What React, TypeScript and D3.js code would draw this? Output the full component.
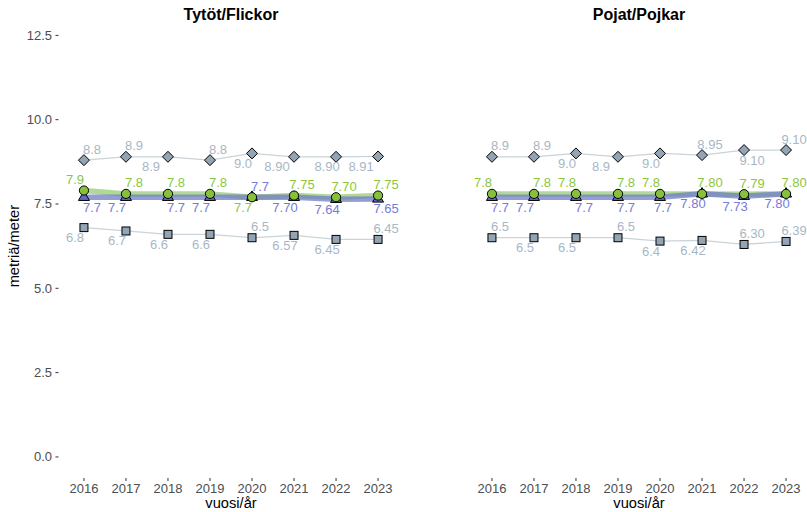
import React from "react";
import * as d3 from "d3";

// years on the x axis
const years = [2016, 2017, 2018, 2019, 2020, 2021, 2022, 2023];
const yTicks = [0, 2.5, 5, 7.5, 10, 12.5];

// Tytöt/Flickor
const girlsHigh = [8.8, 8.9, 8.9, 8.8, 9.0, 8.9, 8.9, 8.91];
const girlsMean = [7.9, 7.8, 7.8, 7.8, 7.7, 7.75, 7.7, 7.75];
const girlsMedian = [7.7, 7.7, 7.7, 7.7, 7.7, 7.7, 7.64, 7.65];
const girlsLow = [6.8, 6.7, 6.6, 6.6, 6.5, 6.57, 6.45, 6.45];

// Pojat/Pojkar
const boysHigh = [8.9, 8.9, 9.0, 8.9, 9.0, 8.95, 9.1, 9.1];
const boysMean = [7.8, 7.8, 7.8, 7.8, 7.8, 7.8, 7.79, 7.8];
const boysMedian = [7.7, 7.7, 7.7, 7.7, 7.7, 7.8, 7.73, 7.8];
const boysLow = [6.5, 6.5, 6.5, 6.5, 6.4, 6.42, 6.3, 6.39];

// where each value label sits relative to its point (u/d, l/r/L/c)
const girlsHighPos = ["ur", "ur", "dL", "ur", "dl", "dL", "dl", "dL"];
const girlsMeanPos = ["ul", "ur", "ur", "ur", "dl", "ur", "ur", "ur"];
const girlsMedianPos = ["dr", "dl", "dr", "dl", "ur", "dl", "dl", "dr"];
const girlsLowPos = ["dl", "dl", "dl", "dl", "ur", "dl", "dl", "ur"];
const boysHighPos = ["ur", "ur", "dl", "dL", "dl", "ur", "dr", "ur"];
const boysMeanPos = ["ul", "ur", "ul", "ur", "ul", "ur", "ur", "ur"];
const boysMedianPos = ["dr", "dl", "dr", "dr", "dc", "dl", "dl", "dl"];
const boysLowPos = ["ur", "dl", "dl", "ur", "dl", "dl", "ur", "ur"];

const W = 807;
const H = 512;
const FONT = "'Liberation Sans', Arial, Helvetica, sans-serif";

const grayLine = "#c9d3d9";
const grayFill = "#93a4b4";
const grayText = "#a8b7c5";
const greenBand = "#9fce7c";
const greenFill = "#87c13c";
const greenText = "#8cc63f";
const blueBand = "#6f7cc8";
const blueFill = "#5f69c6";
const blueText = "#757bd8";

const y = d3.scaleLinear().domain([-0.625, 13.125]).range([478, 14.3]);

const fmt = (v: number, yr: number) =>
  yr <= 2020 ? d3.format(".1f")(v) : d3.format(".2f")(v);

const offset = (code: string) => {
  const dy = code[0] === "u" ? -11 : 10;
  const h = code[1];
  const dx = h === "r" ? 8 : h === "l" ? -9 : h === "L" ? -17 : 3;
  return [dx, dy];
};

type Series = { values: number[]; pos: string[] };

const Panel = ({
  x0,
  x1,
  title,
  high,
  mean,
  median,
  low,
}: {
  x0: number;
  x1: number;
  title: string;
  high: Series;
  mean: Series;
  median: Series;
  low: Series;
}) => {
  const x = d3
    .scalePoint<number>()
    .domain(years)
    .range([x0, x1])
    .padding(0.57);
  const line = d3
    .line<number>()
    .x((_, i) => x(years[i]) as number)
    .y((d) => y(d));
  const cx = (x0 + x1) / 2;

  const labels = (s: Series, color: string, key: string) =>
    s.values.map((v, i) => {
      const [dx, dy] = offset(s.pos[i]);
      return (
        <text
          key={key + i}
          x={(x(years[i]) as number) + dx}
          y={y(v) + dy}
          textAnchor="middle"
          dominantBaseline="central"
          fontSize={13}
          fill={color}
        >
          {fmt(v, years[i])}
        </text>
      );
    });

  return (
    <g fontFamily={FONT}>
      <text
        x={cx}
        y={20}
        textAnchor="middle"
        fontSize={16}
        fontWeight="bold"
        fill="#000"
      >
        {title}
      </text>

      {/* x axis */}
      {years.map((yr) => (
        <g key={yr}>
          <line
            x1={x(yr)}
            x2={x(yr)}
            y1={478}
            y2={481}
            stroke="#333"
            strokeWidth={1}
          />
          <text
            x={x(yr)}
            y={493}
            textAnchor="middle"
            fontSize={13}
            fill="#4d4d4d"
          >
            {yr}
          </text>
        </g>
      ))}
      <text x={cx} y={508} textAnchor="middle" fontSize={14.7} fill="#000">
        vuosi/år
      </text>

      {/* lines */}
      <path d={line(high.values) || ""} fill="none" stroke={grayLine} strokeWidth={1.3} />
      <path d={line(low.values) || ""} fill="none" stroke={grayLine} strokeWidth={1.3} />
      <path
        d={line(mean.values) || ""}
        fill="none"
        stroke={greenBand}
        strokeWidth={5.5}
        strokeOpacity={0.8}
      />
      <path
        d={line(median.values) || ""}
        fill="none"
        stroke={blueBand}
        strokeWidth={5.5}
        strokeOpacity={0.75}
      />

      {/* markers */}
      {high.values.map((v, i) => {
        const px = x(years[i]) as number;
        const py = y(v);
        const r = 5.5;
        return (
          <path
            key={"hd" + i}
            d={`M${px},${py - r}L${px + r},${py}L${px},${py + r}L${px - r},${py}Z`}
            fill={grayFill}
            stroke="#000"
            strokeWidth={1}
          />
        );
      })}
      {low.values.map((v, i) => (
        <rect
          key={"ls" + i}
          x={(x(years[i]) as number) - 4}
          y={y(v) - 4}
          width={8}
          height={8}
          fill={grayFill}
          stroke="#000"
          strokeWidth={1}
        />
      ))}
      {median.values.map((v, i) => {
        const px = x(years[i]) as number;
        const py = y(v);
        const s = 11;
        const h = (s * Math.sqrt(3)) / 2;
        return (
          <path
            key={"mt" + i}
            d={`M${px},${py - (2 * h) / 3}L${px + s / 2},${py + h / 3}L${px - s / 2},${py + h / 3}Z`}
            fill={blueFill}
            stroke="#000"
            strokeWidth={1}
          />
        );
      })}
      {mean.values.map((v, i) => (
        <circle
          key={"mc" + i}
          cx={x(years[i]) as number}
          cy={y(v)}
          r={4.6}
          fill={greenFill}
          stroke="#000"
          strokeWidth={1}
        />
      ))}

      {/* value labels */}
      {labels(high, grayText, "hl")}
      {labels(low, grayText, "ll")}
      {labels(mean, greenText, "ml")}
      {labels(median, blueText, "dl")}
    </g>
  );
};

export default function App() {
  return (
    <svg
      width={W}
      height={H}
      style={{ position: "absolute", left: 0, top: 0, background: "#fff" }}
    >
      {/* y axis */}
      <g fontFamily={FONT}>
        {yTicks.map((t) => (
          <g key={t}>
            <text
              x={52}
              y={y(t)}
              textAnchor="end"
              dominantBaseline="central"
              fontSize={13}
              fill="#4d4d4d"
            >
              {d3.format(".1f")(t)}
            </text>
            <line x1={55.5} x2={58.5} y1={y(t)} y2={y(t)} stroke="#333" strokeWidth={1} />
          </g>
        ))}
        <text
          transform={`translate(19,${y(6.25)}) rotate(-90)`}
          textAnchor="middle"
          fontSize={14.7}
          fill="#000"
        >
          metriä/meter
        </text>
      </g>
      <Panel
        x0={60}
        x1={402}
        title="Tytöt/Flickor"
        high={{ values: girlsHigh, pos: girlsHighPos }}
        mean={{ values: girlsMean, pos: girlsMeanPos }}
        median={{ values: girlsMedian, pos: girlsMedianPos }}
        low={{ values: girlsLow, pos: girlsLowPos }}
      />
      <Panel
        x0={468}
        x1={810}
        title="Pojat/Pojkar"
        high={{ values: boysHigh, pos: boysHighPos }}
        mean={{ values: boysMean, pos: boysMeanPos }}
        median={{ values: boysMedian, pos: boysMedianPos }}
        low={{ values: boysLow, pos: boysLowPos }}
      />
    </svg>
  );
}
